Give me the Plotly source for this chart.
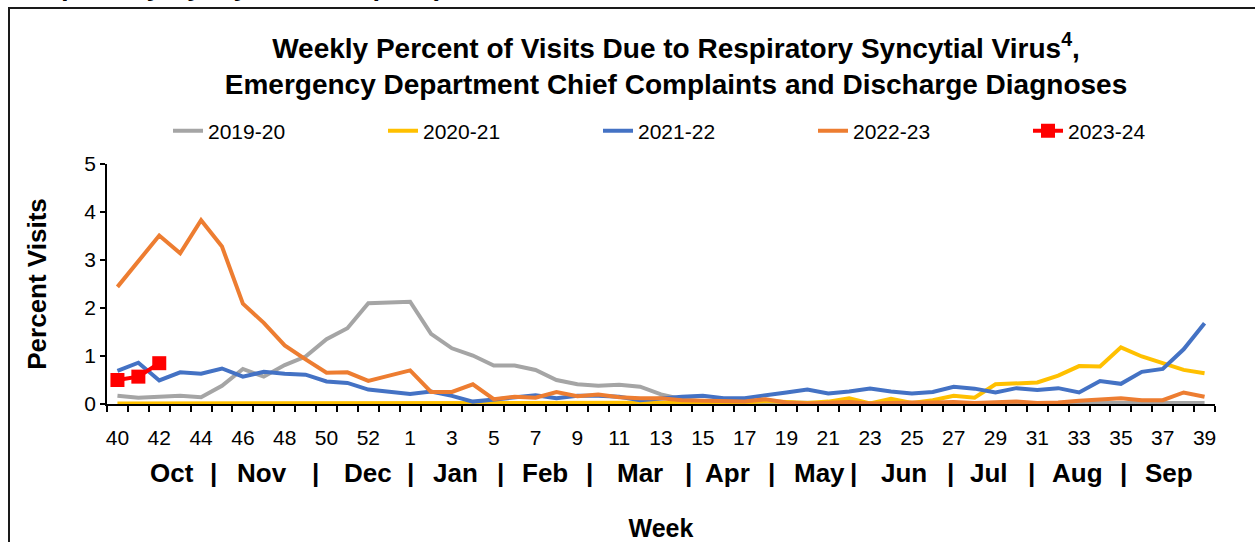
import plotly.graph_objects as go

# ---------------- data ----------------
weeks = ["40", "41", "42", "43", "44", "45", "46", "47", "48", "49", "50", "51", "52", "53",
         "1", "2", "3", "4", "5", "6", "7", "8", "9", "10", "11", "12", "13", "14", "15",
         "16", "17", "18", "19", "20", "21", "22", "23", "24", "25", "26", "27", "28", "29",
         "30", "31", "32", "33", "34", "35", "36", "37", "38", "39"]

s2019_20 = [0.17, 0.13, 0.15, 0.17, 0.14, 0.38, 0.73, 0.57, 0.81, 0.99, 1.35, 1.58, 2.10, 2.11,
            2.13, 1.46, 1.16, 1.01, 0.80, 0.80, 0.71, 0.50, 0.41, 0.38, 0.40, 0.36, 0.20, 0.10,
            0.06, 0.05, 0.04, 0.04, 0.03, 0.03, 0.02, 0.02, 0.02, 0.02, 0.02, 0.02, 0.02, 0.02,
            0.02, 0.02, 0.02, 0.02, 0.02, 0.02, 0.02, 0.02, 0.02, 0.02, 0.02]

s2020_21 = [0.01, 0.01, 0.01, 0.01, 0.02, 0.03, 0.03, 0.02, 0.01, 0.01, 0.01, 0.01, 0.03, 0.02,
            0.01, 0.02, 0.02, 0.01, 0.02, 0.02, 0.01, 0.01, 0.01, 0.01, 0.01, 0.01, 0.02, 0.01,
            0.02, 0.03, 0.03, 0.06, 0.03, 0.02, 0.05, 0.12, 0.01, 0.11, 0.02, 0.08, 0.17, 0.13,
            0.41, 0.44, 0.45, 0.59, 0.79, 0.78, 1.18, 0.99, 0.86, 0.71, 0.64]

s2021_22 = [0.69, 0.86, 0.49, 0.66, 0.63, 0.74, 0.57, 0.67, 0.63, 0.61, 0.47, 0.44, 0.30, 0.26,
            0.21, 0.26, 0.17, 0.05, 0.09, 0.13, 0.18, 0.12, 0.17, 0.17, 0.15, 0.08, 0.12, 0.15,
            0.17, 0.12, 0.12, 0.19, 0.24, 0.30, 0.22, 0.26, 0.32, 0.26, 0.22, 0.25, 0.36, 0.32,
            0.24, 0.33, 0.29, 0.33, 0.24, 0.48, 0.42, 0.67, 0.73, 1.14, 1.68]

s2022_23 = [2.44, 2.97, 3.51, 3.14, 3.83, 3.28, 2.09, 1.69, 1.22, 0.93, 0.65, 0.66, 0.48, 0.59,
            0.70, 0.25, 0.25, 0.41, 0.10, 0.15, 0.13, 0.25, 0.16, 0.20, 0.14, 0.12, 0.12, 0.08,
            0.07, 0.05, 0.05, 0.10, 0.03, 0.01, 0.02, 0.04, 0.01, 0.03, 0.03, 0.03, 0.04, 0.02,
            0.03, 0.05, 0.02, 0.03, 0.07, 0.10, 0.12, 0.08, 0.08, 0.24, 0.15]

s2023_24 = [0.50, 0.57, 0.85]

week_labels = ["40", "", "42", "", "44", "", "46", "", "48", "", "50", "", "52", "",
               "1", "", "3", "", "5", "", "7", "", "9", "", "11", "", "13", "", "15",
               "", "17", "", "19", "", "21", "", "23", "", "25", "", "27", "", "29",
               "", "31", "", "33", "", "35", "", "37", "", "39"]

month_labels = ["Oct", "|", "Nov", "|", "Dec", "|", "Jan", "|", "Feb", "|", "Mar", "|",
                "Apr", "|", "May", "|", "Jun", "|", "Jul", "|", "Aug", "|", "Sep"]
# horizontal position of each month label, in category units
month_pos = [2.63, 4.6, 6.9, 9.48, 11.97, 14.03, 16.19, 18.3, 20.45, 22.6, 25.0, 27.3,
             29.2, 31.27, 33.57, 35.2, 37.6, 39.85, 41.7, 43.7, 45.9, 48.1, 50.3]

series = [
    ("2019-20", s2019_20, "#A5A5A5"),
    ("2020-21", s2020_21, "#FFC000"),
    ("2021-22", s2021_22, "#4472C4"),
    ("2022-23", s2022_23, "#ED7D31"),
]

FONT = "Arial, 'Liberation Sans', sans-serif"

fig = go.Figure()
for name, vals, color in series:
    fig.add_trace(go.Scatter(x=weeks, y=vals, name=name, mode="lines",
                             line=dict(color=color, width=4)))
fig.add_trace(go.Scatter(x=weeks[:len(s2023_24)], y=s2023_24, name="2023-24",
                         mode="lines+markers",
                         line=dict(color="#FF0000", width=4),
                         marker=dict(symbol="square", size=14, color="#FF0000")))

# month labels under the week numbers
for txt, pos in zip(month_labels, month_pos):
    fig.add_annotation(x=pos, y=-0.2875, xref="x", yref="paper", text="<b>%s</b>" % txt,
                       showarrow=False, font=dict(family=FONT, size=26, color="black"),
                       xanchor="center", yanchor="middle")

# heading above the chart frame, mostly cut off by the top edge
fig.add_annotation(x=(12 - 107) / 1108, y=(404 - 3.5) / 240, xref="paper", yref="paper",
                   text="<b><i>Respiratory Syncytial Virus (RSV)</i></b>",
                   showarrow=False, font=dict(family=FONT, size=27, color="black"),
                   xanchor="left", yanchor="bottom")

# outer frame
fig.add_shape(type="rect", xref="paper", yref="paper",
              x0=(9 - 107) / 1108, x1=(1275 - 107) / 1108,
              y0=(404 - 560) / 240, y1=(404 - 8) / 240,
              line=dict(color="#1a1a1a", width=2), fillcolor="rgba(0,0,0,0)", layer="below")

fig.update_layout(
    width=1255, height=542,
    margin=dict(l=107, r=40, t=164, b=138, autoexpand=False),
    paper_bgcolor="white", plot_bgcolor="white",
    font=dict(family=FONT, color="black"),
    title=dict(text="<b>Weekly Percent of Visits Due to Respiratory Syncytial Virus<sup>4</sup>,<br>"
                    "Emergency Department Chief Complaints and Discharge Diagnoses</b>",
               x=676 / 1255, xanchor="center", xref="container",
               y=1 - 58 / 542, yanchor="top", yref="container",
               font=dict(family=FONT, size=28, color="black")),
    legend=dict(orientation="h", x=(168 - 107) / 1108, xanchor="left",
                y=(404 - 131) / 240, yanchor="middle",
                font=dict(family=FONT, size=21, color="black"),
                entrywidth=170, entrywidthmode="pixels", bgcolor="rgba(0,0,0,0)"),
    showlegend=True,
)

fig.update_xaxes(type="category", range=[-0.5, 52.5], automargin=False,
                 tickmode="array", tickvals=weeks, ticktext=week_labels,
                 tickson="boundaries", ticks="outside", ticklen=6, tickwidth=1.5, tickcolor="black",
                 showline=True, linecolor="black", linewidth=1.5, showgrid=False, zeroline=False,
                 tickangle=0, ticklabelstandoff=14,
                 tickfont=dict(family=FONT, size=21, color="black"),
                 title=dict(text="<b>Week</b>", standoff=72,
                            font=dict(family=FONT, size=25, color="black")))

fig.update_yaxes(range=[0, 5], dtick=1, tick0=0, ticks="outside", ticklen=5, tickwidth=1.5,
                 automargin=False,
                 tickcolor="black", showline=True, linecolor="black", linewidth=1.5,
                 showgrid=False, zeroline=False,
                 tickfont=dict(family=FONT, size=21, color="black"),
                 title=dict(text="<b>Percent Visits</b>", standoff=30,
                            font=dict(family=FONT, size=26, color="black")))

fig.write_html("out.html", config={"displayModeBar": False},
               post_script="document.body.style.margin='0';")
